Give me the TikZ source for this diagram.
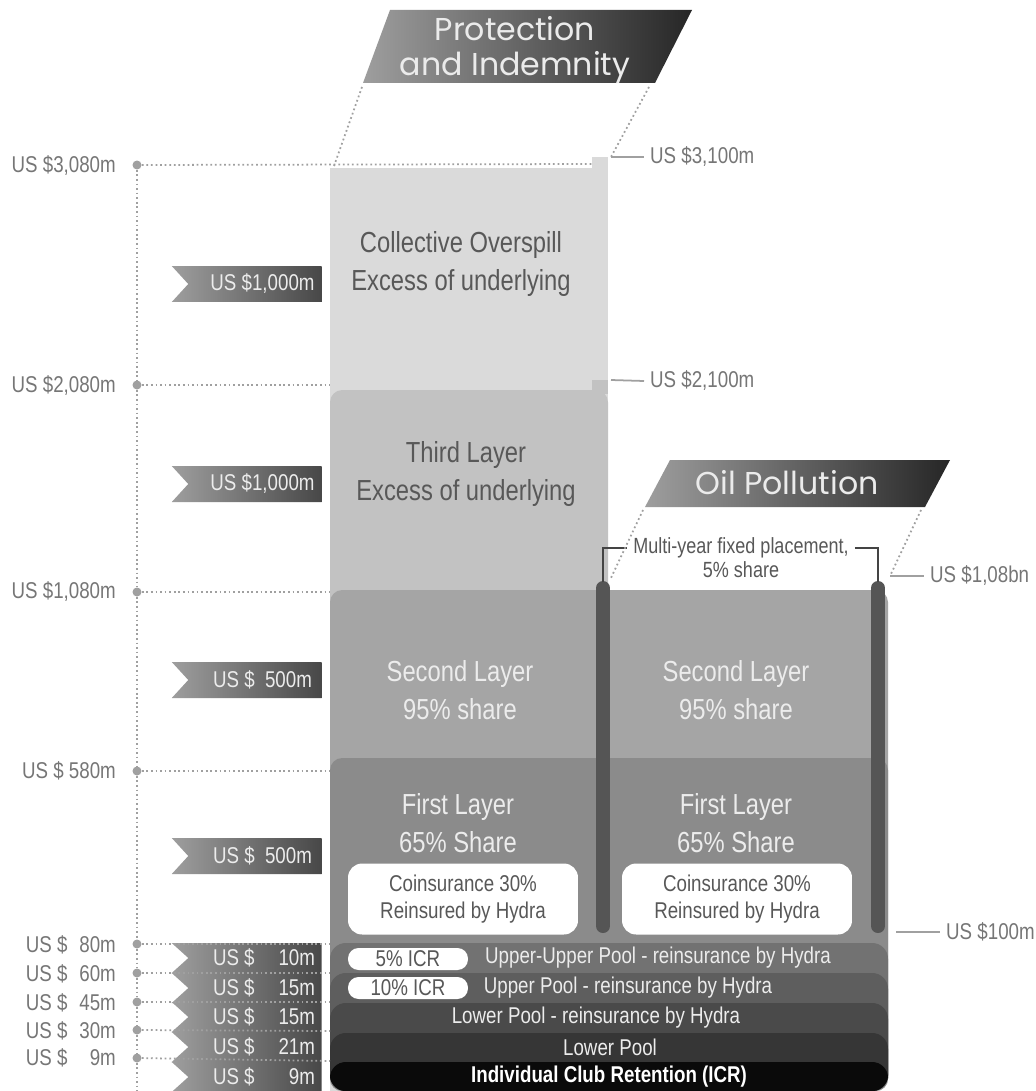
\documentclass[tikz,border=0pt]{standalone}
\usepackage{fontspec}
\setmainfont{Liberation Sans}[FakeStretch=0.82]
\newfontfamily\titlefont{Poppins}
\usetikzlibrary{shapes.symbols,calc}
\definecolor{pioverspill}{RGB}{218,218,218}
\definecolor{pithird}{RGB}{194,194,194}
\definecolor{pisecond}{RGB}{165,165,165}
\definecolor{pifirst}{RGB}{139,139,139}
\definecolor{piuu}{RGB}{114,114,114}
\definecolor{piupper}{RGB}{94,94,94}
\definecolor{pilowerre}{RGB}{74,74,74}
\definecolor{pilower}{RGB}{54,54,54}
\definecolor{piicr}{RGB}{10,10,10}
\definecolor{pipillar}{RGB}{85,85,85}
\definecolor{pitext}{RGB}{88,88,88}
\definecolor{pilabel}{RGB}{118,118,118}
\definecolor{pilight}{RGB}{236,236,236}
\definecolor{pidot}{RGB}{160,160,160}

\begin{document}
\begin{tikzpicture}[x=0.02cm, y=-0.02cm,
  every node/.style={font=\fontsize{13}{15}\selectfont},
  axislbl/.style={anchor=east, text=pilabel},
  valdot/.style={circle, fill=pidot, inner sep=0pt, minimum size=0.18cm},
  guide/.style={pidot, line width=1pt, dash pattern=on 1pt off 1.6pt},
  ribbon/.style={signal, signal from=west, signal to=nowhere, signal pointer angle=95,
    left color=black!38, right color=black!72, text=pilight,
    minimum width=3cm, minimum height=0.72cm, inner sep=0pt},
  rowribbon/.style={ribbon, signal pointer angle=84, minimum height=0.6cm},
  layertxt/.style={align=center, font=\fontsize{16.5}{21.6}\selectfont},
  coins/.style={fill=white, rounded corners=8pt, text=pitext, align=center,
    minimum width=4.6cm, minimum height=1.42cm, font=\fontsize{13}{15.4}\selectfont},
  icrbox/.style={fill=white, rounded corners=6pt, text=pitext,
    minimum width=2.4cm, minimum height=0.44cm, inner sep=0pt},
  bandtxt/.style={text=pilight},
  rightlbl/.style={anchor=west, text=pilabel},
  tick/.style={pidot, line width=1pt},
  bracket/.style={pipillar!80!black, line width=1.2pt},
  pillar/.style={pipillar, line width=0.28cm, line cap=round},
  titleband/.style={left color=black!38, right color=black!85},
  titletxt/.style={font=\titlefont\fontsize{18}{19.9}\selectfont, text=white!92!black, align=center}]

\fill[white] (0,0) rectangle (1035,1091);
\useasboundingbox (0,0) rectangle (1035,1091);

% Ribbons with layer sizes
\node[ribbon] (r1) at (255,284) {\hspace{0.3cm}US \$1,000m};
\node[ribbon] (r2) at (255,484) {\hspace{0.3cm}US \$1,000m};
\node[ribbon] (r3) at (255,680) {\hspace{0.3cm}US \$ \ 500m};
\node[ribbon] (r4) at (255,856) {\hspace{0.3cm}US \$ \ 500m};
\node[rowribbon] (b10) at (255,958) {\hspace{0.36cm}\makebox[2.04cm]{US \$\hfill 10m}};
\node[rowribbon] (b15a) at (255,988) {\hspace{0.36cm}\makebox[2.04cm]{US \$\hfill 15m}};
\node[rowribbon] (b15b) at (255,1017) {\hspace{0.36cm}\makebox[2.04cm]{US \$\hfill 15m}};
\node[rowribbon] (b21) at (255,1047) {\hspace{0.36cm}\makebox[2.04cm]{US \$\hfill 21m}};
\node[rowribbon] (b9) at (255,1077) {\hspace{0.36cm}\makebox[2.04cm]{US \$\hfill 9m}};

% Protection and Indemnity layers
\fill[pioverspill] (330,168) rectangle (608,1091);
\fill[pioverspill] (592,157) rectangle (608,170);
\fill[pithird, rounded corners=7pt] (330,390) rectangle (608,1091);
\fill[pithird] (592,380) rectangle (608,394);
\fill[pisecond, rounded corners=7pt] (330,590) rectangle (888,1091);
\fill[pifirst, rounded corners=7pt] (330,758) rectangle (888,1091);

% Pool bands
\fill[piuu, rounded corners=9pt] (330,943) rectangle (888,1091);
\fill[piupper, rounded corners=9pt] (330,973) rectangle (888,1091);
\fill[pilowerre, rounded corners=9pt] (330,1003) rectangle (888,1091);
\fill[pilower, rounded corners=9pt] (330,1033) rectangle (888,1091);
\fill[piicr, rounded corners=9pt] (330,1062) rectangle (888,1091);

% Pillars
\draw[pillar] (603,588) -- (603,926);
\draw[pillar] (878,588) -- (878,926);

% Layer texts
\node[layertxt, text=pitext] (overspill) at (461,264) {Collective Overspill\\Excess of underlying};
\node[layertxt, text=pitext] (third) at (466,474) {Third Layer\\Excess of underlying};
\node[layertxt, text=pilight] (secondpi) at (460,690) {Second Layer\\95\% share};
\node[layertxt, text=pilight] (secondop) at (736,690) {Second Layer\\95\% share};
\node[layertxt, text=pilight] (firstpi) at (458,823) {First Layer\\65\% Share};
\node[layertxt, text=pilight] (firstop) at (736,823) {First Layer\\65\% Share};
\node[coins] (coinpi) at (463,899) {Coinsurance 30\%\\Reinsured by Hydra};
\node[coins] (coinop) at (737,899) {Coinsurance 30\%\\Reinsured by Hydra};

% Band texts
\node[icrbox] (icr5) at (408,959) {5\% ICR};
\node[icrbox] (icr10) at (408,988) {10\% ICR};
\node[bandtxt] (uupool) at (658,958) {Upper-Upper Pool - reinsurance by Hydra};
\node[bandtxt] (upool) at (628,988) {Upper Pool - reinsurance by Hydra};
\node[bandtxt] (lrpool) at (596,1018) {Lower Pool - reinsurance by Hydra};
\node[bandtxt] (lpool) at (610,1047) {Lower Pool};
\node[bandtxt, font=\fontsize{13}{15}\selectfont\bfseries, text=white] (icr) at (609,1077) {Individual Club Retention (ICR)};

% Value axis
\node[valdot] (v3080) at (137,165) {};
\node[valdot] (v2080) at (137,385) {};
\node[valdot] (v1080) at (137,592) {};
\node[valdot] (v580) at (137,771) {};
\node[valdot] (v80) at (137,944) {};
\node[valdot] (v60) at (137,973) {};
\node[valdot] (v45) at (137,1002) {};
\node[valdot] (v30) at (137,1030) {};
\node[valdot] (v9) at (137,1058) {};
\coordinate (axisend) at (137,1091);

\node[axislbl] (l3080) at (122,166) {US \$3,080m};
\node[axislbl] (l2080) at (122,386) {US \$2,080m};
\node[axislbl] (l1080) at (122,592) {US \$1,080m};
\node[axislbl] (l580) at (122,771) {US \$ 580m};
\node[axislbl] (l80) at (122,945) {\makebox[1.8cm]{US \$\hfill 80m}};
\node[axislbl] (l60) at (122,974) {\makebox[1.8cm]{US \$\hfill 60m}};
\node[axislbl] (l45) at (122,1003) {\makebox[1.8cm]{US \$\hfill 45m}};
\node[axislbl] (l30) at (122,1031) {\makebox[1.8cm]{US \$\hfill 30m}};
\node[axislbl] (l9) at (122,1058) {\makebox[1.8cm]{US \$\hfill 9m}};

\draw[guide] (v3080) -- (v2080);
\draw[guide] (v2080) -- (v1080);
\draw[guide] (v1080) -- (v580);
\draw[guide] (v580) -- (v80);
\draw[guide] (v80) -- (v60);
\draw[guide] (v60) -- (v45);
\draw[guide] (v45) -- (v30);
\draw[guide] (v30) -- (v9);
\draw[guide] (v9) -- (axisend);

% Level guides
\coordinate (g3080) at (592,164);
\coordinate (g2080) at (330,385);
\coordinate (g1080) at (330,592);
\coordinate (g580) at (330,771);
\draw[guide] (v3080) -- (g3080);
\draw[guide] (v2080) -- (g2080);
\draw[guide] (v1080) -- (g1080);
\draw[guide] (v580) -- (g580);
\draw[guide] (v80) -- (330,944);
\draw[guide] (v60) -- (330,973);
\draw[guide] (v45) -- (330,1002);
\draw[guide] (v30) -- (330,1031);
\draw[guide] (v9) -- (330,1061);

% Right labels
\coordinate (s3100) at (611,157);
\coordinate (s2100) at (611,380);
\coordinate (s108) at (890,576);
\coordinate (s100) at (896,932);
\node[rightlbl] (l3100) at (644,157) {US \$3,100m};
\node[rightlbl] (l2100) at (644,381) {US \$2,100m};
\node[rightlbl] (l108) at (924,576) {US \$1,08bn};
\node[rightlbl] (l100) at (940,932) {US \$100m};
\draw[tick] (s3100) -- (l3100.west);
\draw[tick] (s2100) -- (l2100.west);
\draw[tick] (s108) -- (l108.west);
\draw[tick] (s100) -- (l100.west);

% Multi-year placement bracket
\coordinate (pilLtop) at (603,582);
\coordinate (pilRtop) at (878,582);
\node[text=pitext, font=\fontsize{12.5}{14}\selectfont] (mfp) at (741,548) {Multi-year fixed placement,};
\node[text=pitext, font=\fontsize{12.5}{14}\selectfont] (share) at (741,570) {5\% share};
\draw[bracket] (pilLtop) |- (mfp.west);
\draw[bracket] (mfp.east) -| (pilRtop);

% Titles
\shade[titleband] (363,83) -- (390,10) -- (692,10) -- (655,83) -- cycle;
\node[titletxt] (pititle) at (515,50) {Protection\\and Indemnity};
\coordinate (piBL) at (362,87);
\coordinate (piBR) at (649,87);
\coordinate (colTL) at (334,166);
\draw[guide] (piBL) -- (colTL);
\draw[guide] (piBR) -- (s3100);

\shade[titleband] (645,507) -- (670,460) -- (950,460) -- (925,507) -- cycle;
\node[titletxt] (optitle) at (787,483) {Oil Pollution};
\coordinate (opBL) at (643,510);
\coordinate (opBR) at (921,510);
\draw[guide] (opBL) -- (610,580);
\draw[guide] (opBR) -- (s108);

\end{tikzpicture}
\end{document}
